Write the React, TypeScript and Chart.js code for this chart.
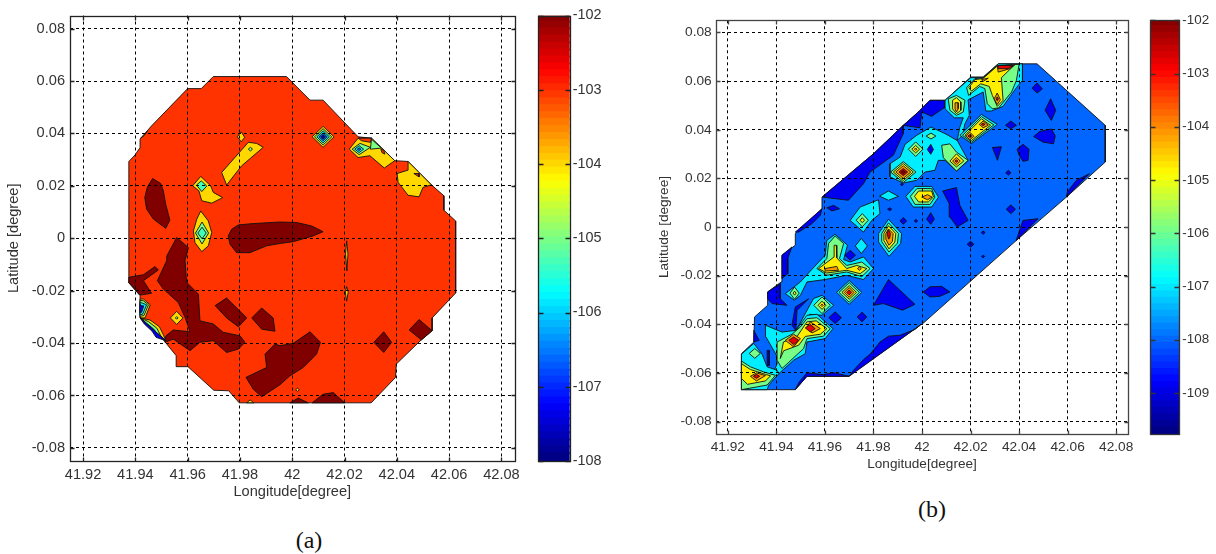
import React, { useEffect, useRef } from "react";
import { Chart, registerables } from "chart.js";

Chart.register(...registerables);

const lonTicks = [41.92, 41.94, 41.96, 41.98, 42, 42.02, 42.04, 42.06, 42.08];
const lonLabels = ["41.92", "41.94", "41.96", "41.98", "42", "42.02", "42.04", "42.06", "42.08"];
const latTicks = [0.08, 0.06, 0.04, 0.02, 0, -0.02, -0.04, -0.06, -0.08];
const latLabels = ["0.08", "0.06", "0.04", "0.02", "0", "-0.02", "-0.04", "-0.06", "-0.08"];
const cbTicksA = [-102, -103, -104, -105, -106, -107, -108];
const cbTicksB = [-102, -103, -104, -105, -106, -107, -108, -109];

const RED = "#ff3300";
const DARK = "#800000";
const GOLD = "#ffd800";
const LIME = "#78ff88";
const TEAL = "#40ffb8";
const CYAN = "#00eeff";
const BLUE = "#0066ff";
const NAVY = "#0000f0";
const DEEP = "#0000a0";
const YEL = "#ffee00";
const ORG = "#ff9a00";
const HOT = "#e80000";

const rh = (cx: number, cy: number, w: number, h: number) => [cx - w, cy, cx, cy + h, cx + w, cy, cx, cy - h];

// ---------- Panel (a) ----------
const aOutline = [41.9375,.0293,41.9399,.0318,41.9418,.0346,41.9418,.0378,41.9462,.0429,41.96,.0571,41.9652,.0571,41.9698,.0617,41.9978,.0617,42.0068,.0527,42.0118,.0527,42.0252,.0387,42.0303,.0382,42.0392,.0296,42.0443,.0293,42.0532,.0204,42.058,.0162,42.058,.0107,42.0625,.0066,42.0625,-.0209,42.0535,-.0304,42.0535,-.0353,42.0493,-.0388,42.0398,-.048,42.0395,-.0531,42.0302,-.0628,41.9797,-.0628,41.9757,-.0582,41.97,-.058,41.9601,-.049,41.9556,-.049,41.9556,-.0448,41.9505,-.0385,41.9418,-.0304,41.9418,-.0219,41.9373,-.0168];
const aDark1 = [41.9466,.0228,41.9497,.0209,41.9507,.0181,41.9516,.013,41.9532,.0069,41.9516,.0038,41.9469,.0073,41.9443,.0111,41.9436,.0155,41.9446,.0196];
const aDark2 = [41.9755,.0009,41.9768,.0034,41.9794,.0051,41.9851,.0056,41.9953,.0062,42.0017,.006,42.0074,.0047,42.0118,.0025,42.008,.0009,42.0004,-.0013,41.9953,-.002,41.9902,-.0029,41.9838,-.0055,41.9787,-.0055,41.9762,-.0023];
const aDark3 = [41.9558,.0003,41.9603,-.0036,41.959,-.0085,41.9596,-.0168,41.9641,-.0213,41.9647,-.0315,41.9698,-.0327,41.9736,-.0359,41.98,-.0372,41.9819,-.0397,41.9794,-.0423,41.9749,-.0436,41.9698,-.0391,41.9647,-.0397,41.9609,-.0429,41.9545,-.0385,41.9513,-.0397,41.9517,-.0372,41.9545,-.035,41.9609,-.0357,41.959,-.0302,41.9564,-.0245,41.9507,-.0194,41.9484,-.0162,41.952,-.0085,41.952,-.0068];
const aDark4 = [41.9375,-.0149,41.9431,-.0139,41.9475,-.0108,41.9488,-.0121,41.9431,-.0162,41.9462,-.021,41.9418,-.0217,41.9375,-.0168];
const aDark5 = [41.9705,-.0257,41.9749,-.0228,41.9826,-.0304,41.9794,-.0338,41.9749,-.0304];
const aDark6 = [41.9845,-.0304,41.9883,-.0266,41.9927,-.0304,41.9934,-.0355,41.9883,-.0347];
const aDark7 = [41.9823,-.0531,41.9902,-.0493,41.9896,-.0442,41.9934,-.0404,41.9953,-.041,42.0004,-.0401,42.0068,-.0357,42.0108,-.0397,42.0093,-.0442,42.0042,-.0493,41.9991,-.0525,41.9953,-.0559,41.9883,-.0605,41.9851,-.0576];
const aDark8 = [42.0076,-.0628,42.0118,-.0595,42.0157,-.0589,42.0201,-.0628];
const aDark9 = [41.9991,-.0628,42.0023,-.061,42.0061,-.0628];
const aDark10 = [42.0312,-.0397,42.035,-.0357,42.038,-.0397,42.035,-.0436];
const aDark11 = [42.0447,-.035,42.0485,-.031,42.0535,-.0353,42.0494,-.0388];
const aGold1 = [41.973,.0251,41.9832,.0366,41.9864,.0362,41.9889,.0347,41.9806,.0276,41.9749,.0203];
const aGold2 = [41.9619,.02,41.965,.0236,41.9688,.02,41.9698,.0175,41.9734,.0155,41.9692,.0134,41.9654,.0143,41.9643,.0181];
const aGold2in = [41.9634,.0203,41.9652,.0219,41.9673,.0199,41.9654,.0178];
const aGold3 = [41.965,.0104,41.9679,.0066,41.9692,.0022,41.9679,-.0029,41.9654,-.0051,41.9628,-.0017,41.9622,.0028,41.9635,.0073];
const aGold4 = [41.979,.0387,41.9805,.0406,41.9818,.0385,41.9805,.0368];
const aGold5 = [41.942,.0382,41.9446,.0408,41.9433,.0391];
const aEdge1 = [42.0218,.034,42.0252,.0382,42.0303,.0382,42.0392,.0296,42.0352,.0268,42.0297,.0315,42.0252,.0308];
const aEdge1red = [42.0252,.0382,42.0303,.0382,42.0299,.0366,42.0265,.0372];
const aEdge1lime = [42.0303,.0378,42.0341,.0344,42.0299,.034];
const aEdge1in = [42.0229,.034,42.0259,.0362,42.0299,.0347,42.0256,.0319];
const aEdge1sliver = [42.0339,.034,42.035,.0336,42.0354,.0321,42.0343,.0327];
const aEdge2 = [42.0443,.0293,42.0532,.0204,42.05,.0194,42.0485,.0158,42.0443,.0164,42.0405,.0213,42.0401,.0247,42.0443,.026];
const aEdge2red = [42.0465,.0247,42.0485,.0247,42.0485,.0234];
const aSlit1 = [42.0208,-.001,42.0213,-.006,42.0209,-.0125,42.0204,-.006];
const aSlit2 = [42.0208,-.0185,42.0214,-.0205,42.0208,-.024,42.0203,-.0205];
const aNotch1 = [41.9418,-.0232,41.9431,-.0232,41.9457,-.0254,41.9437,-.0304,41.9418,-.0304];
const aNotch2 = [41.9418,-.0238,41.943,-.0238,41.945,-.0254,41.9433,-.0295,41.9418,-.0298];
const aNotch3 = [41.9418,-.0245,41.9428,-.0248,41.9443,-.0254,41.9428,-.029,41.9418,-.0292];
const aNotch4 = [41.9418,-.0252,41.9425,-.0258,41.9432,-.0258,41.9424,-.0282,41.9418,-.0285];
const aArc1 = [41.9418,-.0304,41.9456,-.0312,41.9492,-.0338,41.9507,-.0368,41.9516,-.0391];
const aArc2 = [41.9418,-.0304,41.945,-.0318,41.9482,-.0343,41.9497,-.0372,41.9516,-.0391];
const aArc3 = [41.9418,-.0304,41.9443,-.0324,41.9473,-.0349,41.9488,-.0376,41.9516,-.0391];
const aArc4 = [41.9418,-.0304,41.9434,-.0327,41.9464,-.0355,41.9479,-.0378,41.9516,-.0391];
const aFoot = [41.9826,-.0628,41.9839,-.0617,41.9853,-.0628];

const panelA: [string, number[]][] = [
  [RED, aOutline], [DARK, aDark1], [DARK, aDark2], [DARK, aDark3], [DARK, aDark4], [DARK, aDark5], [DARK, aDark6],
  [DARK, aDark7], [DARK, aDark8], [DARK, aDark9], [DARK, aDark10], [DARK, aDark11],
  [GOLD, aGold1], [LIME, rh(41.984, .034, .0008, .0007)], [GOLD, aGold2], [TEAL, aGold2in], [GOLD, aGold3],
  [LIME, rh(41.9655, .002, .0025, .0042)], [TEAL, rh(41.9655, .002, .0016, .0022)], [GOLD, aGold4], [GOLD, aGold5],
  [GOLD, rh(42.0118, .0387, .0042, .004)], [LIME, rh(42.0118, .0387, .0033, .0031)], [CYAN, rh(42.0118, .0387, .0024, .0023)],
  [BLUE, rh(42.0118, .0387, .0016, .0015)], [DEEP, rh(42.0118, .0387, .0008, .0008)],
  [GOLD, aEdge1], [RED, aEdge1red], [LIME, aEdge1lime], [LIME, aEdge1in], [CYAN, rh(42.0256, .034, .0017, .0013)],
  [BLUE, rh(42.0256, .034, .0007, .0005)], [RED, aEdge1sliver], [GOLD, aEdge2], [RED, aEdge2red],
  [GOLD, aSlit1], [GOLD, aSlit2], [GOLD, rh(41.9558, -.0304, .0024, .0025)], [LIME, rh(41.9558, -.0304, .0005, .0005)],
  [GOLD, aNotch1], [LIME, aNotch2], [CYAN, aNotch3], [NAVY, aNotch4],
  [GOLD, aArc1], [LIME, aArc2], [CYAN, aArc3], [NAVY, aArc4], [GOLD, aFoot], [GOLD, rh(42.002, -.0578, .0007, .0006)],
];

// ---------- Panel (b) ----------
const bOutline = [41.9256,-.0669,41.9256,-.0521,41.9307,-.0473,41.931,-.037,41.9364,-.0322,41.9364,-.0267,41.942,-.0226,41.9423,-.0116,41.9478,-.0075,41.9478,-.0027,41.9492,-.0014,41.9588,.0075,41.9588,.0123,41.9601,.0134,41.98,.0301,41.9923,.0418,41.9985,.0473,42.0033,.0521,42.0095,.0521,42.0201,.0617,42.0252,.0617,42.0314,.0671,42.0474,.0671,42.0755,.0418,42.0755,.0267,42.0595,.0123,42.0389,-.0055,42,-.04,41.9992,-.0404,41.9697,-.0614,41.9526,-.0614,41.9478,-.0669];
const bNavy1 = [41.959,.0123,41.9601,.0134,41.98,.0301,41.9923,.0418,41.9985,.0473,42.0033,.0521,42.0095,.0521,42.0095,.0493,42.004,.0455,41.9999,.0473,41.9992,.0408,41.9923,.0418,41.9923,.0384,41.9882,.0295,41.9786,.0226,41.9759,.0178,41.9697,.011];
const bNavy2 = [41.9478,-.0021,41.9588,.0075,41.9581,.0048,41.9547,.0014,41.9492,-.0021];
const bNavy3 = [41.9423,-.0116,41.9464,-.0082,41.9447,-.013,41.9447,-.0192,41.9423,-.0212];
const bNavy4 = [41.9364,-.0267,41.9416,-.0233,41.9416,-.0295,41.9444,-.0322,41.9382,-.0315,41.9364,-.0295];
const bNavy5 = [41.9307,-.0425,41.9329,-.0466,41.9307,-.0473];
const bNavy6 = [41.97,-.0614,41.9718,-.0589,41.9759,-.0545,41.9786,-.0523,41.9827,-.0473,41.9862,-.0449,41.991,-.0445,41.9971,-.0421,41.9992,-.0404];
const bNavy7 = [41.9478,-.0669,41.9526,-.0614,41.97,-.0614,41.9636,-.0599,41.9594,-.0607,41.9526,-.06,41.9494,-.0637];
const bNavy8 = [42.0595,.0123,42.069,.0219,42.0636,.0192,42.0599,.0144];
const bNavy9 = [42.0478,.0034,42.0416,.0027,42.0389,-.0052,42.0389,-.0055];
const bBlobA = [42.0453,.0571,42.0474,.0592,42.0496,.0568,42.0474,.0551];
const bBlobB = [42.0507,.048,42.053,.0527,42.0551,.048,42.0533,.0438];
const bBlobC = [42.0344,.0418,42.0366,.0436,42.0389,.0418,42.0366,.0404];
const bBlobD = [42.046,.0372,42.0485,.0393,42.0533,.0403,42.0549,.0375,42.0542,.0342,42.0499,.0349];
const bBlobE = [42.029,.0327,42.0327,.033,42.0311,.0274];
const bBlobF = [42.0392,.032,42.0416,.034,42.0441,.032,42.0437,.0274,42.0416,.027,42.04,.0295];
const bBlobI = [42.0085,.0148,42.0142,.0162,42.0156,.0089,42.019,.0027,42.0145,0,42.0115,.0041,42.0112,.0096];
const bBlobJ = [42.0019,.0032,42.0036,.0059,42.0051,.0032,42.0036,.0011];
const bBlobK = [42.0005,-.0267,42.0033,-.0246,42.0081,-.0244,42.0115,-.0267,42.0074,-.0285,42.0033,-.0288];
const bBlobL = [41.98,-.0322,41.9862,-.0216,41.9971,-.0318,41.992,-.0342,41.9841,-.0315];
const bBlobM = [41.9464,-.0404,41.9478,-.0329,41.9533,-.0295,41.9485,-.0343,41.948,-.0425];
const bBlobN = [41.9362,-.0507,41.9371,-.0507,41.9371,-.0569,41.9362,-.0569];
const bBlobO = [41.9608,.0079,41.9636,.0089,41.966,.0075,41.9629,.0066];
const bBlobP = [42.0022,.0319,42.0036,.034,42.0047,.0319,42.0036,.0299];

const bCyanMid = [42.0037,.0411,41.9978,.0377,41.993,.034,41.991,.0288,41.9868,.026,41.9868,.0206,41.9923,.0181,41.9978,.0192,42.0012,.0226,42.0053,.0233,42.0067,.0274,42.0095,.0274,42.0142,.023,42.019,.0274,42.0156,.0336,42.0145,.0356,42.0095,.0384];
const bCyanTop = [42.0095,.0521,42.0201,.0614,42.0252,.0614,42.0314,.0671,42.0414,.0671,42.0414,.0603,42.0389,.0573,42.0334,.0496,42.0286,.0477,42.0263,.0477,42.0252,.0555,42.019,.0523,42.0195,.0459,42.0177,.0425,42.0167,.0377,42.0145,.0356,42.0156,.0411,42.017,.0449,42.0133,.0449,42.0095,.0486];
const bP1lime = [42.0108,.0527,42.0142,.0541,42.0177,.0521,42.017,.0473,42.0142,.0459,42.0115,.048];
const bP1yel = [42.0126,.0521,42.0142,.0532,42.016,.0514,42.016,.048,42.0142,.0466,42.0126,.0486];
const bP1org = [42.0136,.0511,42.0149,.0511,42.0149,.0486,42.0142,.0473,42.0136,.0486];
const bTopLime = [42.0184,.0573,42.0218,.061,42.0252,.0614,42.031,.0664,42.04,.0669,42.0389,.0603,42.0369,.0555,42.0316,.049,42.029,.0486,42.0269,.0507,42.0259,.0569,42.0238,.0578,42.0192,.0541];
const bTopYel = [42.0193,.0573,42.0218,.0606,42.0252,.0611,42.031,.0662,42.0382,.0667,42.0327,.0614,42.0334,.0521,42.031,.0496,42.029,.0541,42.0277,.0578,42.0242,.0589,42.0204,.0559];
const bTopOrg = [42.031,.0662,42.0382,.0667,42.0362,.0651,42.0314,.0637];
const bTopHot = [42.0314,.0664,42.0375,.0664,42.0355,.0651,42.0314,.0651];
const bTopFleck = [42.0245,.0606,42.0273,.0612,42.0252,.0599];
const bTopDrop = [42.0297,.0527,42.031,.0551,42.0323,.0523,42.031,.0504];
const bP2cyan = [42.0156,.0377,42.0245,.0463,42.031,.0422,42.0204,.0343];
const bP2lime = [42.0167,.0377,42.0245,.0454,42.0296,.042,42.0204,.0349];
const bP2yel = [42.0177,.0377,42.0245,.0445,42.0282,.0418,42.0204,.0356];
const bP2o1 = [42.0236,.0422,42.0252,.0436,42.0273,.0418,42.0252,.0408];
const bP2o2 = [42.018,.0374,42.0197,.039,42.0214,.0373,42.0197,.0359];
const bP3lime = [42.0081,.0336,42.0115,.0342,42.0142,.0308,42.019,.0274,42.0142,.023,42.0088,.0285];
const bP3yel = [42.0115,.0271,42.0142,.0301,42.0172,.0271,42.0142,.0247];
const bP6cyan = [41.9933,.0126,41.9971,.0167,42.004,.0167,42.0068,.0123,42.004,.0082,41.9964,.0082];
const bP6lime = [41.9952,.0126,41.9979,.0158,42.004,.0158,42.0053,.0123,42.0033,.0093,41.9971,.0093];
const bP6yel = [41.9969,.0126,41.9986,.0148,42.004,.0148,42.0047,.0123,42.0026,.0103,41.9986,.0103];
const bP6org = [41.9999,.0123,42.0023,.0133,42.0041,.0123,42.0023,.0112];
const bCyanSmall = [41.9825,.0127,41.9862,.0148,41.9903,.0126,41.9862,.011];
const bC3 = [41.9704,.0027,41.9745,.0082,41.9821,.0112,41.9827,.0055,41.9793,.0027,41.9759,-.0021];
const bP7cyan = [41.9821,-.0027,41.9862,.0032,41.9916,-.0027,41.9912,-.0068,41.9864,-.0121,41.9821,-.0062];
const bP7lime = [41.9834,-.0027,41.9862,.0017,41.9903,-.0027,41.9899,-.0066,41.9864,-.0103,41.9834,-.006];
const bP7yel = [41.9843,-.0027,41.9862,.0005,41.9892,-.0027,41.9888,-.0062,41.9864,-.009,41.9843,-.0056];
const bP7org = [41.9851,-.0027,41.9862,-.0008,41.9881,-.0027,41.9878,-.006,41.9864,-.0075,41.9851,-.005];
const bP7hot = [41.9856,-.0025,41.9862,-.0012,41.987,-.0027,41.9867,-.0045,41.9862,-.005];
const bP8cyan = [41.9437,-.0274,41.9499,-.0226,41.954,-.0181,41.9601,-.0116,41.9608,-.0055,41.9642,-.003,41.9693,-.0075,41.9677,-.0134,41.9704,-.0144,41.9759,-.0123,41.98,-.0171,41.9759,-.0216,41.969,-.0199,41.9601,-.0216,41.9526,-.0226,41.9499,-.0281,41.9474,-.0301];
const bP8lime = [41.9567,-.0171,41.9608,-.013,41.9615,-.0068,41.9642,-.0037,41.9677,-.0068,41.966,-.013,41.969,-.0158,41.9752,-.0144,41.9786,-.0171,41.9752,-.0204,41.969,-.0185,41.9608,-.0198];
const bP8yel = [41.9574,-.0171,41.9638,-.0123,41.9638,-.0075,41.9647,-.0075,41.9649,-.0127,41.969,-.0171,41.9731,-.0158,41.9773,-.0171,41.9745,-.0192,41.969,-.0178,41.9608,-.0189];
const bP8org = [41.9601,-.0171,41.9649,-.0162,41.9656,-.0178,41.9601,-.0181];
const bP10cyan = [41.9485,-.0418,41.9553,-.0294,41.9588,-.0281,41.9636,-.0322,41.9588,-.0363,41.9537,-.0359];
const bFlyCyan = [41.9355,-.0404,41.9423,-.0432,41.9481,-.0425,41.9526,-.0363,41.9567,-.0359,41.9633,-.0418,41.9601,-.0459,41.9526,-.0473,41.9519,-.0521,41.9471,-.0548,41.941,-.0603,41.9368,-.0647,41.9403,-.0562,41.94,-.0527,41.9357,-.0452];
const bFlyLime = [41.9403,-.0473,41.9464,-.0441,41.9499,-.0411,41.9526,-.0377,41.9567,-.0373,41.9622,-.0418,41.9594,-.0449,41.9526,-.0459,41.9512,-.05,41.9423,-.0582,41.9403,-.0548];
const bFlyYel = [41.9416,-.0541,41.9429,-.0473,41.9484,-.0452,41.9526,-.039,41.9564,-.0386,41.9608,-.0418,41.9581,-.0441,41.9519,-.045,41.9492,-.0486,41.943,-.0509];
const bFlyOrg1 = [41.9437,-.0466,41.9471,-.0441,41.9499,-.0459,41.9471,-.0493];
const bFlyHot1 = [41.9451,-.0466,41.9471,-.0452,41.9492,-.0466,41.9471,-.0484];
const bFlyOrg2 = [41.9526,-.0411,41.954,-.039,41.9581,-.0418,41.9547,-.0436];
const bFlyHot2 = [41.9519,-.0415,41.954,-.0401,41.956,-.0418,41.954,-.0432];
const bLowCyan = [41.9256,-.0523,41.9307,-.0479,41.9341,-.0523,41.9362,-.0575,41.9403,-.0589,41.941,-.0603,41.9368,-.0651,41.9362,-.0669,41.9256,-.0669];
const bLowLime = [41.9256,-.0551,41.9293,-.0575,41.9348,-.0596,41.9396,-.061,41.9362,-.065,41.9256,-.0669];
const bLowYel = [41.9256,-.0562,41.9293,-.0586,41.9355,-.0606,41.9376,-.0612,41.9355,-.0633,41.9281,-.0647,41.9256,-.0623];
const bLowOrg = [41.9293,-.0614,41.9318,-.06,41.9355,-.0611,41.9318,-.0633];

const panelB: [string, number[]][] = [
  [BLUE, bOutline], [NAVY, bNavy1], [NAVY, bNavy2], [NAVY, bNavy3], [NAVY, bNavy4], [NAVY, bNavy5], [NAVY, bNavy6], [NAVY, bNavy7], [NAVY, bNavy8], [NAVY, bNavy9],
  [NAVY, bBlobA], [NAVY, bBlobB], [NAVY, bBlobC], [NAVY, bBlobD], [NAVY, bBlobE], [NAVY, bBlobF], [NAVY, bBlobI], [NAVY, bBlobJ], [NAVY, bBlobK], [NAVY, bBlobL],
  [NAVY, bBlobM], [NAVY, bBlobN], [NAVY, bBlobO],
  [NAVY, rh(42.0356, .0223, .0011, .001)], [NAVY, rh(42.0366, .0073, .0019, .0018)], [NAVY, rh(41.9923, .0025, .0014, .0014)], [NAVY, rh(41.9975, .0025, .0007, .0007)],
  [NAVY, rh(42.0252, -.0023, .0008, .0007)], [NAVY, rh(42.02, -.0071, .0014, .0012)], [NAVY, rh(42.0252, -.0121, .0006, .0006)],
  [NAVY, rh(41.9642, -.0373, .0026, .0024)], [NAVY, rh(41.9753, -.037, .002, .002)], [NAVY, rh(41.9704, -.0116, .0022, .002)],
  [NAVY, rh(41.9867, .0073, .0009, .0006)], [NAVY, rh(41.9917, .0175, .0006, .0006)],
  [CYAN, bCyanMid], [CYAN, bCyanTop], [LIME, bTopLime], [YEL, bTopYel], [ORG, bTopOrg], [HOT, bTopHot], [ORG, bTopFleck], [ORG, bTopDrop], [HOT, rh(42.031, .0527, .0005, .0008)],
  [LIME, bP1lime], [YEL, bP1yel], [ORG, bP1org],
  [CYAN, bP2cyan], [LIME, bP2lime], [YEL, bP2yel], [ORG, bP2o1], [HOT, rh(42.0252, .0422, .0008, .0005)], [ORG, bP2o2], [HOT, rh(42.0197, .0374, .0008, .0006)],
  [LIME, bP3lime], [YEL, bP3yel], [ORG, rh(42.0142, .0271, .0016, .0015)], [HOT, rh(42.0142, .0271, .0006, .0005)],
  [LIME, rh(41.9974, .032, .003, .003)], [YEL, rh(41.9974, .032, .0016, .0015)], [ORG, rh(41.9974, .032, .0005, .0005)],
  [LIME, rh(42.0037, .0374, .002, .0012)], [NAVY, bBlobP],
  [LIME, rh(41.9923, .0226, .0052, .0043)], [YEL, rh(41.9923, .0226, .0041, .0035)], [ORG, rh(41.9923, .0226, .0031, .0026)], [HOT, rh(41.9923, .0226, .0018, .0015)], [DARK, rh(41.9923, .0226, .0008, .0007)],
  [CYAN, bP6cyan], [LIME, bP6lime], [YEL, bP6yel], [ORG, bP6org], [CYAN, bCyanSmall],
  [CYAN, bC3], [LIME, rh(41.9754, .0028, .0025, .0027)], [YEL, rh(41.9754, .0028, .0009, .001)],
  [CYAN, bP7cyan], [LIME, bP7lime], [YEL, bP7yel], [ORG, bP7org], [HOT, bP7hot], [CYAN, rh(41.975, -.0078, .0025, .0031)],
  [CYAN, bP8cyan], [LIME, bP8lime], [YEL, bP8yel], [ORG, bP8org], [ORG, rh(41.9742, -.0171, .0008, .0007)],
  [LIME, rh(41.9475, -.0272, .0019, .0025)], [YEL, rh(41.9475, -.0272, .0006, .0008)],
  [CYAN, rh(41.97, -.0269, .0052, .0049)], [LIME, rh(41.97, -.0269, .0042, .004)], [YEL, rh(41.97, -.0269, .003, .0028)], [ORG, rh(41.97, -.0269, .002, .002)], [HOT, rh(41.97, -.0269, .001, .001)],
  [CYAN, bP10cyan], [LIME, rh(41.9588, -.0322, .0034, .0034)], [YEL, rh(41.9588, -.0322, .0016, .0017)], [ORG, rh(41.9588, -.0322, .0005, .0005)],
  [CYAN, bFlyCyan], [LIME, bFlyLime], [YEL, bFlyYel], [ORG, bFlyOrg1], [HOT, bFlyHot1], [ORG, bFlyOrg2], [HOT, bFlyHot2],
  [CYAN, bLowCyan], [LIME, rh(41.9311, -.052, .0023, .002)], [LIME, bLowLime], [YEL, bLowYel], [ORG, bLowOrg], [HOT, rh(41.9318, -.0614, .0013, .0008)],
];

const SANS = "'Liberation Sans', Arial, sans-serif";

const frame = (tick: number, colour: string, both: boolean) => ({
  id: "frame",
  afterDraw(chart: any) {
    const { ctx, chartArea: a, scales } = chart;
    const l = Math.round(a.left) + 0.5, r = Math.round(a.right) + 0.5, t = Math.round(a.top) + 0.5, b = Math.round(a.bottom) + 0.5;
    ctx.save();
    ctx.strokeStyle = colour;
    ctx.lineWidth = 1.3;
    ctx.setLineDash([]);
    ctx.strokeRect(l, t, r - l, b - t);
    ctx.beginPath();
    for (const tk of scales.y.ticks) {
      const y = Math.round(scales.y.getPixelForValue(tk.value)) + 0.5;
      ctx.moveTo(l, y); ctx.lineTo(l + tick, y);
      ctx.moveTo(r, y); ctx.lineTo(r - tick, y);
    }
    if (!both) {
      for (const tk of scales.x.ticks) {
        const x = Math.round(scales.x.getPixelForValue(tk.value)) + 0.5;
        ctx.moveTo(x, b); ctx.lineTo(x, b - tick);
        ctx.moveTo(x, t); ctx.lineTo(x, t + tick);
      }
    }
    ctx.stroke();
    ctx.restore();
  },
});

function makeContour(
  canvas: HTMLCanvasElement,
  shapes: [string, number[]][],
  o: { left: number; top: number; right: number; bottom: number; yw: number; xh: number; font: number; titleFont: number; titleLeft: number; xTitle: string; frameColour: string; tickPadY: number; tickPadX: number },
) {
  const datasets = [...shapes].reverse().map(([color, flat]) => {
    const data: { x: number; y: number }[] = [];
    for (let i = 0; i < flat.length; i += 2) data.push({ x: flat[i], y: flat[i + 1] });
    data.push({ x: flat[0], y: flat[1] });
    return { data, showLine: true, fill: "shape", backgroundColor: color, borderColor: "#111", borderWidth: 0.9, pointRadius: 0, tension: 0 };
  });
  return new Chart(canvas, {
    type: "scatter",
    data: { datasets: datasets as any },
    plugins: [frame(4, o.frameColour, false)],
    options: {
      responsive: false,
      animation: false,
      events: [],
      layout: { autoPadding: false, padding: { left: o.left, top: o.top, right: o.right, bottom: o.bottom } },
      plugins: { legend: { display: false }, tooltip: { enabled: false } },
      scales: {
        x: {
          type: "linear", min: 41.915, max: 42.085,
          afterBuildTicks: (s: any) => { s.ticks = lonTicks.map((value) => ({ value })); },
          afterFit: (s: any) => { s.height = o.xh; },
          ticks: { callback: (_v: any, i: number) => lonLabels[i], autoSkip: false, maxRotation: 0, padding: o.tickPadX, color: "#333", font: { family: SANS, size: o.font } },
          grid: { color: "#000", lineWidth: 1, z: 1, drawTicks: false },
          border: { display: false, dash: [3, 3] },
          title: { display: true, text: o.xTitle, color: "#333", padding: 0, font: { family: SANS, size: o.titleFont } },
        },
        y: {
          type: "linear", min: -0.085, max: 0.085,
          afterBuildTicks: (s: any) => { s.ticks = latTicks.map((value) => ({ value })); },
          afterFit: (s: any) => { s.width = o.yw; },
          ticks: { callback: (_v: any, i: number) => latLabels[i], autoSkip: false, padding: o.tickPadY, color: "#333", font: { family: SANS, size: o.font } },
          grid: { color: "#000", lineWidth: 1, z: 1, drawTicks: false },
          border: { display: false, dash: [3, 3] },
          title: { display: true, text: "Latitude [degree]", color: "#333", padding: { top: o.titleLeft, bottom: 0 }, font: { family: SANS, size: o.titleFont } },
        },
      },
    } as any,
  });
}

function jet(t: number) {
  const c = (v: number) => Math.round(255 * Math.max(0, Math.min(1, v)));
  return `rgb(${c(1.5 - Math.abs(4 * t - 3))},${c(1.5 - Math.abs(4 * t - 2))},${c(1.5 - Math.abs(4 * t - 1))})`;
}

function makeColorbar(
  canvas: HTMLCanvasElement,
  lo: number,
  ticks: number[],
  o: { left: number; top: number; bottom: number; yw: number; font: number; colour: string },
) {
  const hi = -102;
  const bands = 64;
  const datasets = [];
  for (let i = 0; i < bands; i++) {
    const a = lo + ((hi - lo) * i) / bands;
    const b = lo + ((hi - lo) * (i + 1)) / bands;
    datasets.push({ data: [[a, Math.min(hi, b + 0.02)]], backgroundColor: jet((i + 0.5) / bands), borderWidth: 0, barPercentage: 1, categoryPercentage: 1, grouped: false });
  }
  return new Chart(canvas, {
    type: "bar",
    data: { labels: ["dBm"], datasets: datasets as any },
    plugins: [frame(5, o.colour, true)],
    options: {
      responsive: false,
      animation: false,
      events: [],
      layout: { autoPadding: false, padding: { left: o.left, top: o.top, right: 0, bottom: o.bottom } },
      plugins: { legend: { display: false }, tooltip: { enabled: false } },
      scales: {
        x: { display: false, ticks: { display: false }, grid: { display: false } },
        y: {
          type: "linear", position: "right", min: lo, max: hi,
          afterBuildTicks: (s: any) => { s.ticks = ticks.map((value) => ({ value })); },
          afterFit: (s: any) => { s.width = o.yw; },
          ticks: { callback: (v: any) => String(v), autoSkip: false, padding: 3, color: "#333", font: { family: SANS, size: o.font } },
          grid: { display: false, drawTicks: false },
          border: { display: false },
        },
      },
    } as any,
  });
}

const capStyle = (left: number, top: number): React.CSSProperties => ({
  position: "absolute", left, top, transform: "translate(-50%,-50%)",
  fontFamily: "'Liberation Serif', 'Times New Roman', serif", fontSize: 24, color: "#111",
});

export default function App() {
  const a = useRef<HTMLCanvasElement>(null);
  const ac = useRef<HTMLCanvasElement>(null);
  const b = useRef<HTMLCanvasElement>(null);
  const bc = useRef<HTMLCanvasElement>(null);
  useEffect(() => {
    const charts = [
      makeContour(a.current!, panelA, { left: 0, top: 15.5, right: 15.5, bottom: 9, yw: 70, xh: 40, font: 14.6, titleFont: 14.6, titleLeft: 5, xTitle: "Longitude[degree]", frameColour: "#222", tickPadY: 5, tickPadX: 5 }),
      makeColorbar(ac.current!, -108, cbTicksA, { left: 8, top: 15.5, bottom: 19, yw: 50.3, font: 14.4, colour: "#222" }),
      makeContour(b.current!, panelB, { left: 0, top: 20.3, right: 16.7, bottom: 7.8, yw: 75.7, xh: 38.5, font: 13.7, titleFont: 13.6, titleLeft: 16, xTitle: "Longitude[degree]", frameColour: "#444", tickPadY: 4, tickPadX: 5 }),
      makeColorbar(bc.current!, -109.77, cbTicksB, { left: 8.3, top: 20.3, bottom: 26, yw: 36.7, font: 13.4, colour: "#333" }),
    ];
    return () => charts.forEach((c) => c.destroy());
  }, []);
  return (
    <div style={{ position: "fixed", left: 0, top: 0, width: 1216, height: 554, background: "#fff", overflow: "hidden" }}>
      <canvas ref={a} width={530} height={510} style={{ position: "absolute", left: 0, top: 0 }} />
      <canvas ref={ac} width={90} height={480} style={{ position: "absolute", left: 530, top: 0 }} />
      <canvas ref={b} width={505} height={480} style={{ position: "absolute", left: 640, top: 0 }} />
      <canvas ref={bc} width={74} height={460} style={{ position: "absolute", left: 1142, top: 0 }} />
      <div style={capStyle(309, 540)}>(a)</div>
      <div style={capStyle(932, 509)}>(b)</div>
    </div>
  );
}
